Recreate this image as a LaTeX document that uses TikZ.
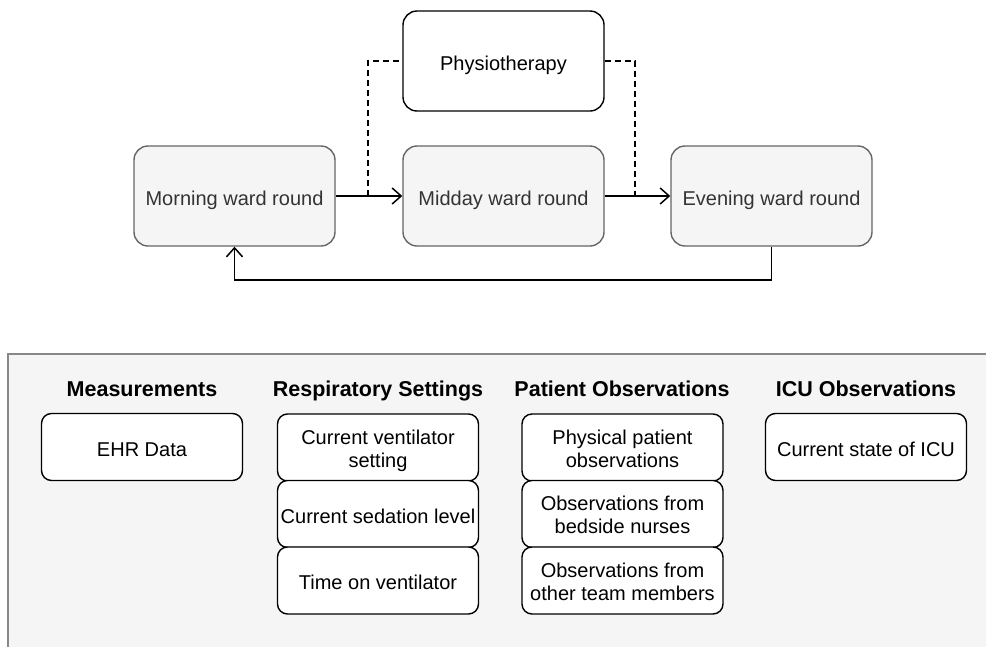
\documentclass[tikz,border=0pt]{standalone}
\usepackage{fontspec}
\setmainfont{Liberation Sans}
\usetikzlibrary{arrows.meta}
\definecolor{boxfill}{HTML}{F5F5F5}
\definecolor{boxline}{HTML}{666666}
\definecolor{boxtext}{HTML}{333333}
\definecolor{panelline}{HTML}{888888}
\begin{document}
\begin{tikzpicture}[x=1pt,y=-1pt,
  every node/.style={font=\fontsize{20}{23}\selectfont, inner sep=2pt, align=center,
    text height=18.5pt, text depth=0pt},
  twoline/.style={text height=39pt, text depth=0pt},
  ward/.style={draw=boxline, fill=boxfill, text=boxtext, line width=1.4pt, rounded corners=14pt,
    minimum width=201pt, minimum height=100pt},
  therapy/.style={draw=black, fill=white, line width=1.4pt, rounded corners=14pt,
    minimum width=201pt, minimum height=100pt},
  item/.style={draw=black, fill=white, line width=1.4pt, rounded corners=10pt,
    minimum width=201pt, minimum height=67pt},
  heading/.style={font=\fontsize{21.5}{24}\selectfont\bfseries},
  flow/.style={draw=black, line width=1.5pt, -{Straight Barb[length=9pt,width=16pt,line width=1.5pt]}},
  link/.style={draw=black, line width=1.5pt, dash pattern=on 6pt off 4pt}
]
\useasboundingbox (0,0) rectangle (986,646);

% ward rounds and physiotherapy
\node[therapy] (physio) at (503.5,61) {Physiotherapy};
\node[ward] (morning) at (234.5,196) {Morning ward round};
\node[ward] (midday) at (503.5,196) {Midday ward round};
\node[ward] (evening) at (771.5,196) {Evening ward round};

\coordinate (tapA) at (368,196);
\coordinate (tapB) at (635,196);
\coordinate (loop) at (0,280);

\draw[flow] (morning.east) -- (midday.west);
\draw[flow] (midday.east) -- (evening.west);
\draw[link] (tapA) |- (physio.west);
\draw[link] (physio.east) -| (tapB);
\draw[flow] (evening.south) |- (loop -| morning.south) -- (morning.south);

% information sources panel
\draw[draw=panelline, fill=boxfill, line width=1.4pt] (8,354) rectangle (1000,660);

\node[heading] (hMeas) at (142,387.5) {Measurements};
\node[heading] (hResp) at (378,387.5) {Respiratory Settings};
\node[heading] (hPat) at (622,387.5) {Patient Observations};
\node[heading] (hICU) at (866,387.5) {ICU Observations};

\node[item] (ehr) at (142,447) {EHR Data};

\node[item, twoline] (vent) at (378,447.5) {Current ventilator\\setting};
\node[item] (sed) at (378,514) {Current sedation level};
\node[item] (time) at (378,580.5) {Time on ventilator};

\node[item, twoline] (phys) at (622.5,447.5) {Physical patient\\observations};
\node[item, twoline] (nurse) at (622.5,514) {Observations from\\bedside nurses};
\node[item, twoline] (team) at (622.5,580.5) {Observations from\\other team members};

\node[item] (icu) at (866,447) {Current state of ICU};
\end{tikzpicture}
\end{document}
